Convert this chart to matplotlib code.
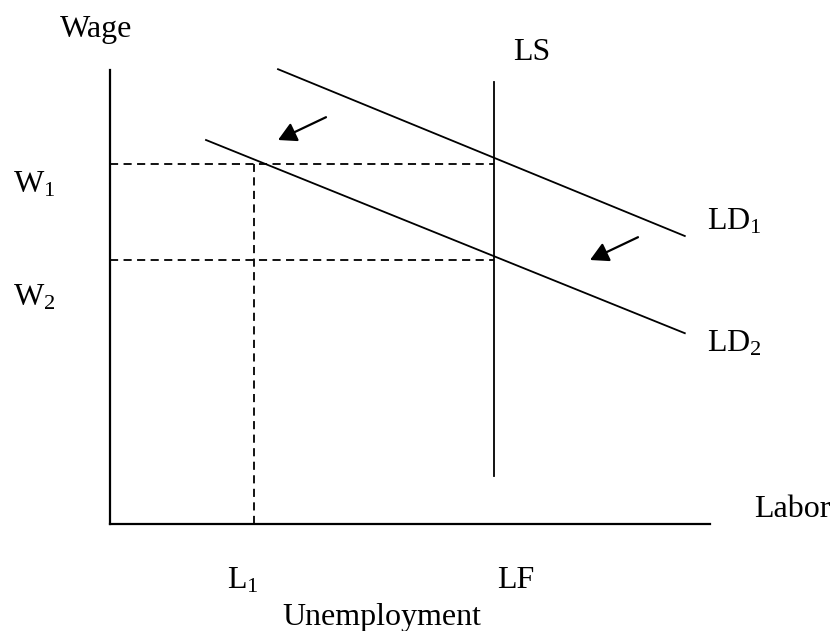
import matplotlib.pyplot as plt

plt.rcParams['font.family'] = ['Liberation Serif', 'DejaVu Serif']
plt.rcParams['mathtext.fontset'] = 'custom'
plt.rcParams['mathtext.rm'] = 'Liberation Serif'
plt.rcParams['mathtext.it'] = 'Liberation Serif'

# diagram values (labor on x, wage on y)
axis_len_x = 10.0
axis_len_y = 7.57
W1, W2 = 6.0, 4.4
L1, LF = 2.4, 6.4
ls_y = [0.8, 7.37]
ld1_x = [2.8, 9.58]
ld1_y = [7.58, 4.8]
ld2_x = [1.6, 9.58]
ld2_y = [6.4, 3.18]
shift_arrows = [((3.6, 6.78), (2.8, 6.4)), ((8.8, 4.78), (8.0, 4.4))]

fig = plt.figure(figsize=(8.32, 6.31), dpi=100)
ax = fig.add_axes([0, 0, 1, 1])
ax.set_xlim(-110 / 60, 722 / 60)
ax.set_ylim(-107 / 60, 524 / 60)
ax.axis('off')

# axes
ax.plot([0, 0], [0, axis_len_y], color='black', lw=1.6)
ax.plot([0, axis_len_x], [0, 0], color='black', lw=1.6)

# labour supply and demand curves
ax.plot([LF, LF], ls_y, color='black', lw=1.3)
ax.plot(ld1_x, ld1_y, color='black', lw=1.3)
ax.plot(ld2_x, ld2_y, color='black', lw=1.3)

# dashed guides
dash = dict(color='black', lw=1.3, dashes=(4.5, 3))
ax.plot([0, LF], [W1, W1], **dash)
ax.plot([0, LF], [W2, W2], **dash)
ax.plot([L1, L1], [0, W1], **dash)

# shift arrows
for start, end in shift_arrows:
    ax.annotate('', xy=end, xytext=start,
                arrowprops=dict(arrowstyle='-|>,head_length=0.55,head_width=0.3',
                                mutation_scale=20, color='black', lw=1.6,
                                shrinkA=0, shrinkB=0))

fs = 23
ax.text(-0.83, 8.12, 'Wage', fontsize=fs, va='baseline')
ax.text(6.72, 7.73, 'LS', fontsize=fs, va='baseline')
ax.text(-1.62, 5.52, r'W$_1$', fontsize=fs, va='baseline')
ax.text(-1.62, 3.65, r'W$_2$', fontsize=fs, va='baseline')
ax.text(9.95, 4.9, r'LD$_1$', fontsize=fs, va='baseline')
ax.text(9.95, 2.87, r'LD$_2$', fontsize=fs, va='baseline')
ax.text(10.73, 0.12, 'Labor', fontsize=fs, va='baseline')
ax.text(1.95, -1.07, r'L$_1$', fontsize=fs, va='baseline')
ax.text(6.45, -1.07, 'LF', fontsize=fs, va='baseline')
ax.text(2.88, -1.68, 'Unemployment', fontsize=fs, va='baseline')

fig.savefig('out.png', dpi=100)
